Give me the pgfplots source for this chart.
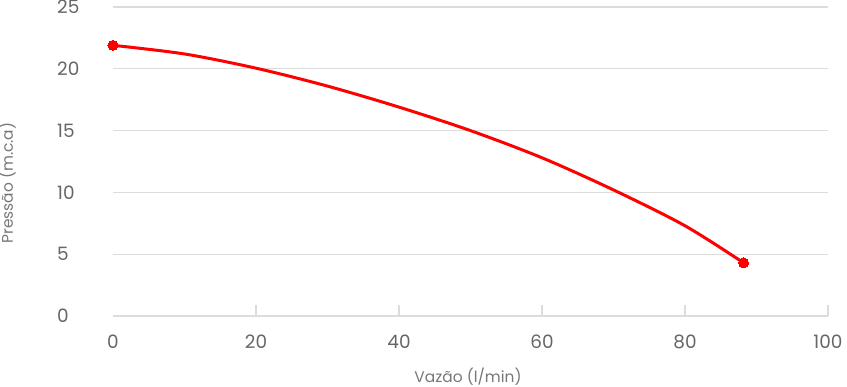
\documentclass[border=0pt]{standalone}
\usepackage{fontspec}
\setmainfont{Poppins}
\usepackage{pgfplots}
\pgfplotsset{compat=1.18}
\definecolor{tickgray}{HTML}{666666}
\definecolor{labgray}{HTML}{777777}
\definecolor{gridgray}{HTML}{DCDCDC}
\definecolor{curvered}{HTML}{FF0000}
\begin{document}
\begin{tikzpicture}
\useasboundingbox (-113bp,-71bp) rectangle (734bp,316bp);
\begin{axis}[
  scale only axis,
  width=715bp, height=309bp,
  anchor=south west, at={(0,0)},
  xmin=0, xmax=100, ymin=0, ymax=25,
  axis x line*=bottom, axis y line*=left,
  x axis line style={draw=gridgray, line width=2bp, -},
  y axis line style={draw=none},
  xtick={20,40,60,80,100},
  extra x ticks={0},
  extra x tick style={major tick length=0pt},
  ytick={0,5,10,15,20,25},
  xtick align=inside,
  major tick length=11bp,
  xtick style={draw=gridgray, line width=2.5bp},
  ytick style={draw=none},
  ymajorgrids,
  grid style={draw=gridgray, line width=1.3bp},
  /pgf/number format/assume math mode=true,
  tick label style={font=\fontsize{18.5}{20}\selectfont, text=tickgray},
  yticklabel style={anchor=west, inner sep=0pt, xshift=-56bp},
  xticklabel style={anchor=center, inner sep=0pt, yshift=-25.5bp},
  xlabel={Vazão (l/min)},
  ylabel={Pressão (m.c.a)},
  every axis x label/.style={at={(axis description cs:0.4965,0)}, anchor=base, yshift=-66bp, font=\fontsize{15.5}{18}\selectfont, text=labgray},
  every axis y label/.style={at={(axis description cs:0,0.43)}, xshift=-100bp, rotate=90, anchor=base, font=\fontsize{15.5}{18}\selectfont, text=labgray},
  clip=false,
]
\addplot[curvered, line width=3bp, smooth, tension=0.5] coordinates {
(0,21.9) (10,21.2) (20,20.05) (30,18.6) (40,16.9) (50,15.0) (60,12.8) (70,10.2) (80,7.3) (88.2,4.3)
};
\addplot[only marks, mark=*, mark size=5bp, mark options={fill=curvered, draw=curvered, line width=0pt}] coordinates {
(0,21.9) (88.2,4.3)
};
\end{axis}
\end{tikzpicture}
\end{document}
